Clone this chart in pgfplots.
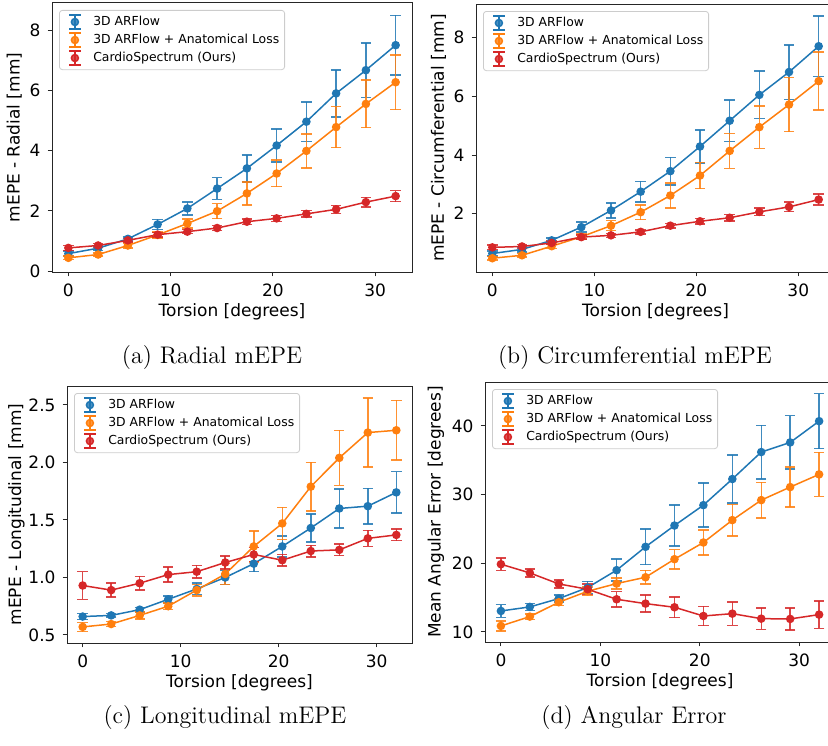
\documentclass[border=0pt]{standalone}
\usepackage{pgfplots}
\pgfplotsset{compat=1.18}
\usepackage{pgfplotstable}
\usepackage{fontspec}
\newfontfamily\dv{DejaVu Sans}

\definecolor{tabblue}{HTML}{1F77B4}
\definecolor{taborange}{HTML}{FF7F0E}
\definecolor{tabred}{HTML}{D62728}

% columns: torsion, value, std
\pgfplotstableread{
x y e
0 0.58 0.08
2.909 0.76 0.07
5.818 1.07 0.07
8.727 1.55 0.17
11.636 2.08 0.22
14.545 2.74 0.36
17.455 3.41 0.45
20.364 4.17 0.55
23.273 4.96 0.66
26.182 5.90 0.78
29.091 6.67 0.90
32 7.50 0.99
}\radBlue
\pgfplotstableread{
x y e
0 0.44 0.06
2.909 0.55 0.05
5.818 0.85 0.08
8.727 1.20 0.10
11.636 1.58 0.15
14.545 1.99 0.25
17.455 2.58 0.38
20.364 3.24 0.44
23.273 3.99 0.56
26.182 4.78 0.68
29.091 5.55 0.79
32 6.27 0.91
}\radOrange
\pgfplotstableread{
x y e
0 0.77 0.08
2.909 0.85 0.06
5.818 1.02 0.06
8.727 1.21 0.07
11.636 1.31 0.07
14.545 1.43 0.08
17.455 1.64 0.09
20.364 1.75 0.10
23.273 1.90 0.11
26.182 2.05 0.13
29.091 2.29 0.16
32 2.49 0.18
}\radRed

\pgfplotstableread{
x y e
0 0.64 0.08
2.909 0.78 0.08
5.818 1.09 0.08
8.727 1.54 0.17
11.636 2.11 0.25
14.545 2.75 0.35
17.455 3.45 0.47
20.364 4.29 0.57
23.273 5.17 0.71
26.182 6.05 0.81
29.091 6.83 0.93
32 7.71 1.03
}\cirBlue
\pgfplotstableread{
x y e
0 0.48 0.06
2.909 0.58 0.06
5.818 0.89 0.08
8.727 1.21 0.10
11.636 1.59 0.17
14.545 2.05 0.25
17.455 2.62 0.42
20.364 3.30 0.45
23.273 4.14 0.60
26.182 4.95 0.72
29.091 5.72 0.92
32 6.52 0.99
}\cirOrange
\pgfplotstableread{
x y e
0 0.85 0.08
2.909 0.88 0.06
5.818 1.00 0.06
8.727 1.20 0.07
11.636 1.26 0.07
14.545 1.38 0.07
17.455 1.59 0.08
20.364 1.74 0.10
23.273 1.86 0.11
26.182 2.06 0.13
29.091 2.23 0.16
32 2.48 0.19
}\cirRed

\pgfplotstableread{
x y e
0 0.66 0.025
2.909 0.67 0.015
5.818 0.72 0.02
8.727 0.81 0.03
11.636 0.90 0.05
14.545 1.00 0.06
17.455 1.12 0.07
20.364 1.27 0.09
23.273 1.43 0.12
26.182 1.60 0.17
29.091 1.62 0.155
32 1.74 0.18
}\lonBlue
\pgfplotstableread{
x y e
0 0.57 0.04
2.909 0.595 0.02
5.818 0.67 0.03
8.727 0.75 0.03
11.636 0.89 0.05
14.545 1.03 0.09
17.455 1.27 0.135
20.364 1.47 0.14
23.273 1.79 0.21
26.182 2.04 0.24
29.091 2.26 0.30
32 2.28 0.26
}\lonOrange
\pgfplotstableread{
x y e
0 0.93 0.12
2.909 0.89 0.06
5.818 0.95 0.06
8.727 1.025 0.065
11.636 1.05 0.055
14.545 1.13 0.055
17.455 1.20 0.06
20.364 1.15 0.05
23.273 1.23 0.05
26.182 1.24 0.05
29.091 1.34 0.07
32 1.37 0.05
}\lonRed

\pgfplotstableread{
x y e
0 13.06 0.92
2.909 13.65 0.5
5.818 14.86 0.5
8.727 16.47 0.9
11.636 19.0 1.6
14.545 22.4 2.6
17.455 25.5 3.0
20.364 28.47 3.2
23.273 32.27 3.5
26.182 36.2 3.9
29.091 37.6 3.9
32 40.7 4.0
}\angBlue
\pgfplotstableread{
x y e
0 10.88 0.75
2.909 12.24 0.4
5.818 14.33 0.5
8.727 15.93 0.6
11.636 17.05 0.8
14.545 17.97 1.0
17.455 20.6 1.4
20.364 23.03 1.8
23.273 26.29 2.3
26.182 29.2 2.6
29.091 31.1 2.9
32 32.95 3.2
}\angOrange
\pgfplotstableread{
x y e
0 19.87 0.9
2.909 18.6 0.6
5.818 17.0 0.6
8.727 16.22 0.75
11.636 14.76 1.1
14.545 14.13 1.25
17.455 13.6 1.5
20.364 12.33 1.4
23.273 12.67 1.7
26.182 11.94 1.55
29.091 11.9 1.6
32 12.53 2.0
}\angRed

\pgfplotsset{
  sub/.style={
    scale only axis, anchor=south west,
    xmin=-1.6, xmax=33.6, xtick={0,10,20,30},
    tick align=outside, xtick pos=lower, ytick pos=left,
    major tick length=2.2pt,
    axis line style={black!85, line width=0.5pt},
    every tick/.style={black!85, line width=0.5pt},
    ticklabel style={font=\dv\fontsize{8.5}{10}\selectfont},
    /pgf/number format/assume math mode=true,
    label style={font=\dv\fontsize{8.5}{10}\selectfont},
    xlabel={Torsion [degrees]},
    xlabel style={yshift=3pt},
    ylabel shift=-3pt,
    legend cell align=left,
    legend style={at={(axis description cs:0,1)}, anchor=north west,
      xshift=3.5pt, yshift=-3.5pt, draw=black!20, rounded corners=1.5pt,
      fill=white, fill opacity=0.8, text opacity=1,
      font=\dv\fontsize{6.2}{7}\selectfont, inner sep=1.5pt, row sep=0.4pt,
      nodes={inner sep=1.2pt}},
  },
  eb/.style={color=#1, line width=0.75pt, mark=*, mark size=1.75pt,
    mark options={solid, fill=#1, draw=#1},
    legend image code/.code={
      \path[draw=none, fill=none] (0,0) -- (0.5cm,0);
      \draw[#1, line width=0.75pt] (0.22cm,-0.12cm) -- (0.22cm,0.12cm)
        (0.12cm,-0.12cm) -- (0.32cm,-0.12cm) (0.12cm,0.12cm) -- (0.32cm,0.12cm);
      \fill[#1] (0.22cm,0) circle (1.75pt);},
    error bars/.cd, y dir=both, y explicit,
    error bar style={line width=0.75pt, #1, opacity=0.85},
    error mark options={rotate=90, mark size=2.6pt, line width=0.75pt, #1, opacity=0.85}},
}

\begin{document}
\begin{tikzpicture}
\useasboundingbox (0,0) rectangle (414pt,372.5pt);

% (a)
\begin{axis}[sub, at={(26pt,236.5pt)}, width=180pt, height=134.5pt,
  ymin=-0.03, ymax=8.9, ytick={0,2,4,6,8},
  ylabel={mEPE - Radial [mm]}]
\addplot[eb=tabblue] table[x=x, y=y, y error=e] {\radBlue};
\addplot[eb=taborange] table[x=x, y=y, y error=e] {\radOrange};
\addplot[eb=tabred] table[x=x, y=y, y error=e] {\radRed};
\legend{3D ARFlow, 3D ARFlow + Anatomical Loss, CardioSpectrum (Ours)}
\end{axis}

% (b)
\begin{axis}[sub, at={(238pt,236.5pt)}, width=179.5pt, height=134pt,
  ymin=0.01, ymax=9.15, ytick={2,4,6,8},
  ylabel={mEPE - Circumferential [mm]}]
\addplot[eb=tabblue] table[x=x, y=y, y error=e] {\cirBlue};
\addplot[eb=taborange] table[x=x, y=y, y error=e] {\cirOrange};
\addplot[eb=tabred] table[x=x, y=y, y error=e] {\cirRed};
\legend{3D ARFlow, 3D ARFlow + Anatomical Loss, CardioSpectrum (Ours)}
\end{axis}

% (c)
\begin{axis}[sub, at={(33.5pt,51pt)}, width=172.5pt, height=128.5pt,
  ymin=0.43, ymax=2.665, ytick={0.5,1.0,1.5,2.0,2.5},
  yticklabel style={/pgf/number format/.cd, fixed, fixed zerofill, precision=1},
  ylabel={mEPE - Longitudinal [mm]}, ylabel shift=-5pt]
\addplot[eb=tabblue] table[x=x, y=y, y error=e] {\lonBlue};
\addplot[eb=taborange] table[x=x, y=y, y error=e] {\lonOrange};
\addplot[eb=tabred] table[x=x, y=y, y error=e] {\lonRed};
\legend{3D ARFlow, 3D ARFlow + Anatomical Loss, CardioSpectrum (Ours)}
\end{axis}

% (d)
\begin{axis}[sub, at={(242.5pt,51.5pt)}, width=175pt, height=130pt,
  ymin=8.54, ymax=46.4, ytick={10,20,30,40},
  ylabel={Mean Angular Error [degrees]}]
\addplot[eb=tabblue] table[x=x, y=y, y error=e] {\angBlue};
\addplot[eb=taborange] table[x=x, y=y, y error=e] {\angOrange};
\addplot[eb=tabred] table[x=x, y=y, y error=e] {\angRed};
\legend{3D ARFlow, 3D ARFlow + Anatomical Loss, CardioSpectrum (Ours)}
\end{axis}

\node[anchor=base, font=\fontsize{12}{14}\selectfont] at (106pt,191pt) {(a) Radial mEPE};
\node[anchor=base, font=\fontsize{12}{14}\selectfont] at (317.5pt,191pt) {(b) Circumferential mEPE};
\node[anchor=base, font=\fontsize{12}{14}\selectfont] at (112.5pt,11pt) {(c) Longitudinal mEPE};
\node[anchor=base, font=\fontsize{12}{14}\selectfont] at (317pt,11pt) {(d) Angular Error};
\end{tikzpicture}
\end{document}
